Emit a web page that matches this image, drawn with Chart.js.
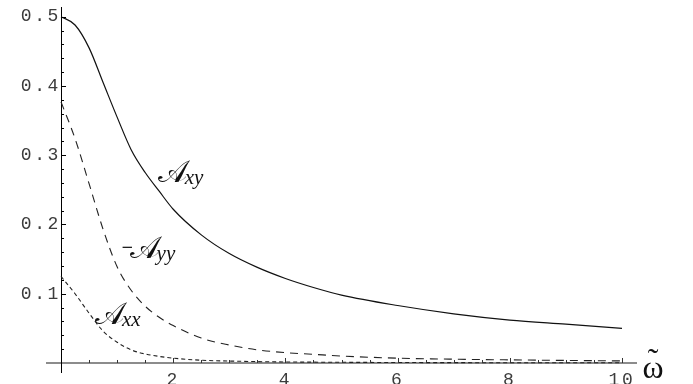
<!DOCTYPE html>
<html lang="en">

<head>
  <meta charset="UTF-8">
  <title>A coefficients vs omega</title>
  <script src="https://cdn.jsdelivr.net/npm/chart.js"></script>
  <style>
    body {
      margin: 0;
      padding: 0;
      background: white;
    }

    .chart-container {
      width: 693px;
      height: 384px;
    }
  </style>
</head>

<body>
  <div class="chart-container">
    <canvas id="plotCanvas" width="693" height="384"></canvas>
  </div>

  <script>
    // values
    const omega = [0, 0.25, 0.5, 0.75, 1, 1.25, 1.5, 1.75, 2, 2.5, 3, 3.5, 4, 4.5, 5, 6, 7, 8, 9, 10];
    const aXY = [0.5, 0.488, 0.455, 0.405, 0.355, 0.308, 0.275, 0.248, 0.222, 0.185, 0.158, 0.138, 0.122, 0.109, 0.098, 0.083, 0.071, 0.062, 0.056, 0.050];
    const minusAYY = [0.377, 0.324, 0.259, 0.193, 0.139, 0.105, 0.082, 0.066, 0.054, 0.036, 0.026, 0.019, 0.015, 0.0125, 0.010, 0.007, 0.0055, 0.0045, 0.0037, 0.003];
    const aXX = [0.125, 0.1, 0.072, 0.046, 0.03, 0.019, 0.013, 0.0095, 0.007, 0.004, 0.0028, 0.002, 0.0015, 0.0012, 0.001, 0.0007, 0.0005, 0.0004, 0.0003, 0.0003];

    const xTicks = [2, 4, 6, 8, 10];
    const yTicks = [0.1, 0.2, 0.3, 0.4, 0.5];

    // curve labels: [omega, value, minus sign?, subscript]
    const curveLabels = [
      [1.76, 0.261, false, 'xy'],
      [1.07, 0.152, true, 'yy'],
      [0.64, 0.056, false, 'xx']
    ];

    function toPoints(values) {
      return omega.map((w, i) => ({ x: w, y: values[i] }));
    }

    // Mathematica style inward ticks, plus the curve labels and axis label
    const decorations = {
      id: 'decorations',
      beforeLayout(chart) {
        chart.ctx.letterSpacing = '2.6px';
      },
      beforeDraw(chart) {
        chart.ctx.letterSpacing = '2.6px';
      },
      afterDatasetsDraw(chart) {
        const ctx = chart.ctx;
        const xs = chart.scales.x;
        const ys = chart.scales.y;
        const x0 = xs.getPixelForValue(0);
        const y0 = ys.getPixelForValue(0);

        ctx.save();
        ctx.letterSpacing = '0px';
        ctx.lineWidth = 1;

        // y ticks
        ctx.strokeStyle = '#000';
        for (let i = 1; i <= 25; i++) {
          const v = i * 0.02;
          const py = Math.round(ys.getPixelForValue(v)) + 0.5;
          const len = (i % 5 === 0) ? 5 : 3;
          ctx.beginPath();
          ctx.moveTo(x0, py);
          ctx.lineTo(x0 + len, py);
          ctx.stroke();
        }

        // x ticks
        ctx.strokeStyle = '#333';
        for (let i = 1; i <= 20; i++) {
          const v = i * 0.5;
          const px = Math.round(xs.getPixelForValue(v)) + 0.5;
          const len = (i % 4 === 0) ? 5 : 3;
          ctx.beginPath();
          ctx.moveTo(px, y0);
          ctx.lineTo(px, y0 - len);
          ctx.stroke();
        }

        // curve labels
        ctx.fillStyle = '#111';
        ctx.textBaseline = 'alphabetic';
        ctx.textAlign = 'left';
        curveLabels.forEach(([w, v, minus, sub]) => {
          let px = xs.getPixelForValue(w);
          const py = ys.getPixelForValue(v);
          if (minus) {
            ctx.font = '15px "DejaVu Sans", sans-serif';
            ctx.fillText('−', px, py - 6);
            px += ctx.measureText('−').width - 2;
          }
          ctx.font = '31px "DejaVu Serif", serif';
          ctx.fillText('𝒜', px - 2, py);
          const mw = ctx.measureText('𝒜').width;
          ctx.font = 'italic 21px "Liberation Serif", serif';
          ctx.fillText(sub, px + mw - 4, py + 2);
        });

        // axis label: omega with a tilde over it
        const cx = chart.chartArea.right + 17;
        ctx.textAlign = 'center';
        ctx.font = '32px "Liberation Serif", serif';
        ctx.fillText('ω', cx, y0 + 15);
        ctx.fillText('˜', cx, y0 + 7);

        ctx.restore();
      }
    };

    const ctx = document.getElementById('plotCanvas').getContext('2d');

    const chart = new Chart(ctx, {
      type: 'line',
      data: {
        datasets: [{
          label: 'Axy',
          data: toPoints(aXY),
          borderColor: '#111',
          borderWidth: 1.2
        }, {
          label: '-Ayy',
          data: toPoints(minusAYY),
          borderColor: '#222',
          borderWidth: 1.1,
          borderDash: [8, 6]
        }, {
          label: 'Axx',
          data: toPoints(aXX),
          borderColor: '#222',
          borderWidth: 1.1,
          borderDash: [4, 3]
        }]
      },
      options: {
        responsive: false,
        animation: false,
        layout: {
          padding: { left: 47, right: 57, top: 7, bottom: 12 }
        },
        elements: {
          point: { radius: 0 },
          line: { cubicInterpolationMode: 'monotone', fill: false }
        },
        plugins: {
          legend: { display: false },
          tooltip: { enabled: false }
        },
        scales: {
          x: {
            type: 'linear',
            min: -0.25,
            max: 10.25,
            position: { y: 0 },
            afterBuildTicks: s => { s.ticks = xTicks.map(v => ({ value: v })); },
            afterFit: s => { s.paddingLeft = 0; s.paddingRight = 0; s.paddingTop = 0; s.paddingBottom = 0; },
            grid: { display: true, drawOnChartArea: false, drawTicks: false },
            border: { display: true, color: '#8c8c8c', width: 2 },
            ticks: {
              color: '#3c3c3c',
              padding: 6,
              maxRotation: 0,
              autoSkip: false,
              font: { family: '"Liberation Mono", monospace', size: 18 },
              callback: v => String(v)
            }
          },
          y: {
            type: 'linear',
            min: -0.013,
            max: 0.514,
            position: { x: 0 },
            afterBuildTicks: s => { s.ticks = yTicks.map(v => ({ value: v })); },
            afterFit: s => { s.paddingLeft = 0; s.paddingRight = 0; s.paddingTop = 0; s.paddingBottom = 0; },
            grid: { display: true, drawOnChartArea: false, drawTicks: false },
            border: { display: true, color: '#000', width: 1 },
            ticks: {
              color: '#3c3c3c',
              padding: 6,
              autoSkip: false,
              font: { family: '"Liberation Mono", monospace', size: 18 },
              callback: v => v.toFixed(1)
            }
          }
        }
      },
      plugins: [decorations]
    });
  </script>

</body>

</html>
